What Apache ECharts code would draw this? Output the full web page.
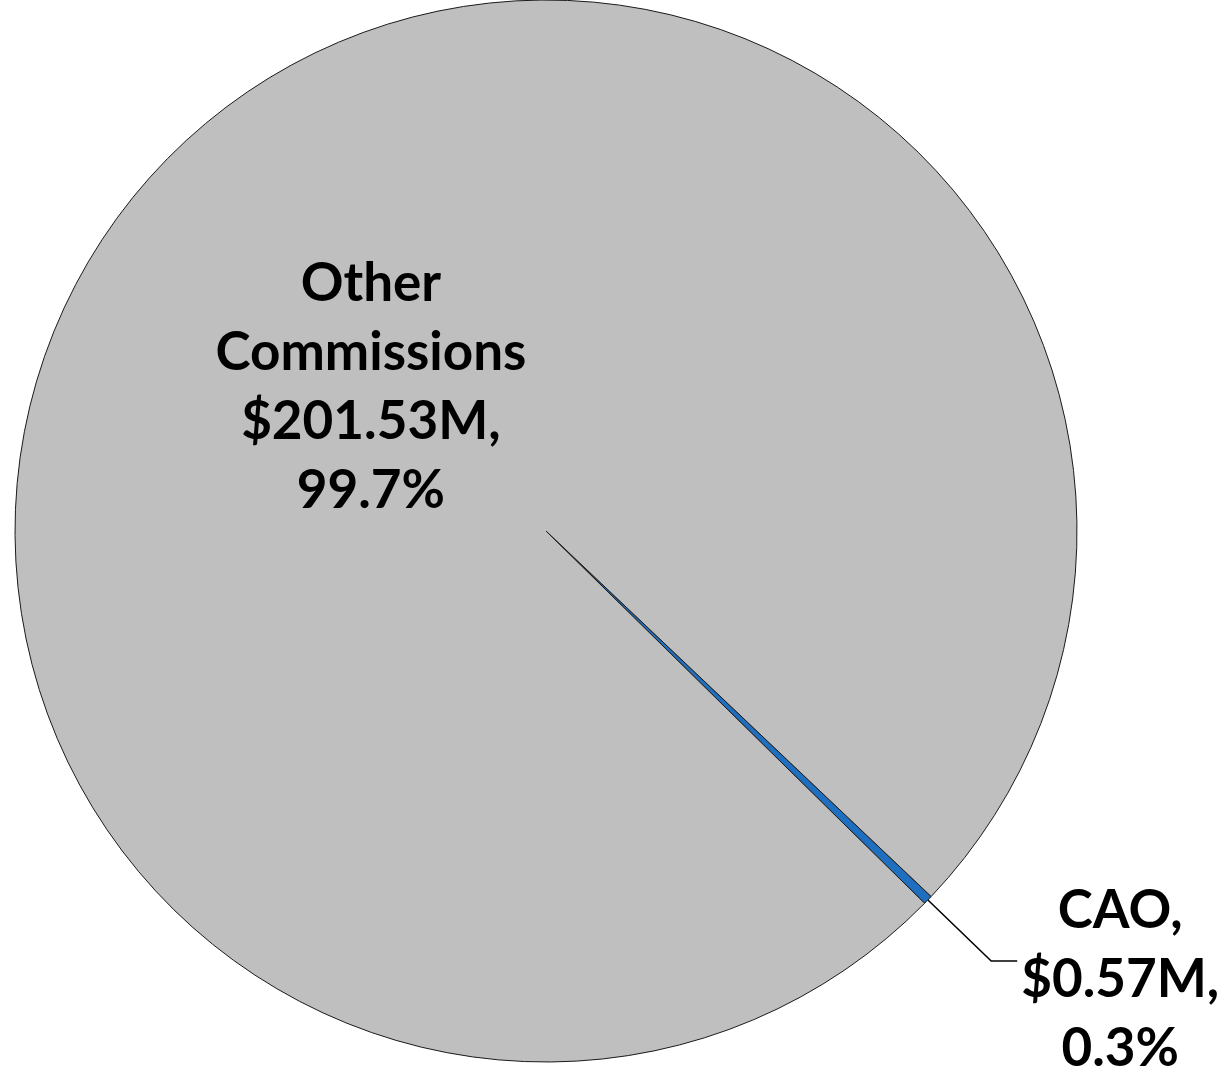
<!DOCTYPE html>
<html>
<head>
<meta charset="utf-8">
<script src="https://cdn.jsdelivr.net/npm/echarts@6/dist/echarts.min.js"></script>
<style>
html,body{margin:0;padding:0;background:#fff;}
#chart{width:1224px;height:1079px;}
</style>
</head>
<body>
<div id="chart"></div>
<script>
const categories = ['CAO', 'Other Commissions'];
const values = [0.57, 201.53];
const colors = ['#1F6FC0', '#BFBFBF'];

const chart = echarts.init(document.getElementById('chart'));
const fontFamily = 'Lato, "Open Sans", sans-serif';
const richC = { fontSize: 53, fontWeight: 'bold', lineHeight: 69, align: 'center', color: '#000', fontFamily: fontFamily };

function fmt(p) {
  const money = '$' + p.value.toFixed(2) + 'M';
  if (p.dataIndex === 0) {
    return ['{c|' + p.name + ',}', '{c|' + money + ',}', '{c|' + p.percent + '%}'].join('\n');
  }
  const parts = p.name.split(' ');
  return parts.map(s => '{c|' + s + '}').concat(['{c|' + money + ',}', '{c|' + p.percent + '%}']).join('\n');
}

const data = categories.map((c, i) => {
  const item = { name: c, value: values[i], itemStyle: { color: colors[i] } };
  if (i === 0) {
    item.label = { position: 'outside', padding: [38, 0, 0, 0], distanceToLabelLine: 4 };
    item.labelLine = { show: true, length: 88, length2: 26, lineStyle: { color: '#000', width: 1.5 } };
  } else {
    item.label = { position: 'inside', padding: [86, 0, 0, 36] };
    item.labelLine = { show: false };
  }
  return item;
});

chart.setOption({
  backgroundColor: '#fff',
  animation: false,
  series: [{
    type: 'pie',
    center: [546, 531],
    radius: [0, 531],
    startAngle: -43.5,
    clockwise: true,
    avoidLabelOverlap: false,
    percentPrecision: 1,
    itemStyle: { borderColor: '#1a1a1a', borderWidth: 1 },
    label: {
      show: true,
      formatter: fmt,
      rich: { c: richC },
      color: '#000'
    },
    emphasis: { disabled: true },
    data: data
  }]
});
</script>
</body>
</html>
